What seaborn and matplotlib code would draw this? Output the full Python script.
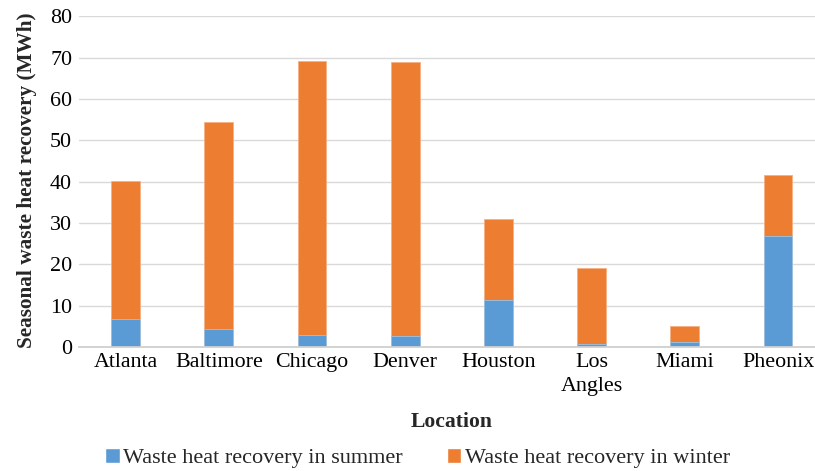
import matplotlib
matplotlib.use("Agg")
import matplotlib.pyplot as plt
from matplotlib.patches import Patch
import seaborn as sns
import pandas as pd

locations = ["Atlanta", "Baltimore", "Chicago", "Denver", "Houston",
             "Los\nAngles", "Miami", "Pheonix"]
summer = [6.7, 4.4, 3.0, 2.6, 11.3, 0.7, 1.3, 26.9]
winter = [33.5, 50.0, 66.1, 66.4, 19.6, 18.4, 3.7, 14.7]
y_ticks = [0, 10, 20, 30, 40, 50, 60, 70, 80]

summer_label = "Waste heat recovery in summer"
winter_label = "Waste heat recovery in winter"
x_title = "Location"
y_title = "Seasonal waste heat recovery (MWh)"

blue = "#5B9BD5"
orange = "#ED7D31"
grid_col = "#d9d9d9"

sns.set_theme(style="white")
plt.rcParams["font.family"] = ["Liberation Serif", "DejaVu Serif"]

df = pd.DataFrame({"Location": locations, "summer": summer, "winter": winter})
df["total"] = df["summer"] + df["winter"]

fig = plt.figure(figsize=(8.15, 4.71), dpi=100)
ax = fig.add_axes([79 / 815, 1 - 347 / 471, 736 / 815, (347 - 16.3) / 471])

# stacked bars: full height in winter colour, summer part drawn on top
sns.barplot(data=df, x="Location", y="total", color=orange, width=0.31,
            saturation=1, edgecolor="#f4b183", linewidth=0.6, ax=ax, zorder=3)
sns.barplot(data=df, x="Location", y="summer", color=blue, width=0.31,
            saturation=1, edgecolor="#9dc3e6", linewidth=0.6, ax=ax, zorder=4)

ax.set_xlim(-0.5, -0.5 + 736 / 93.2)
ax.set_ylim(0, 80)
ax.set_yticks(y_ticks)
ax.set_yticklabels([str(v) for v in y_ticks])
ax.grid(axis="y", color=grid_col, linewidth=1.0, zorder=0)
ax.grid(axis="x", visible=False)
for s in ["top", "right", "left"]:
    ax.spines[s].set_visible(False)
ax.spines["bottom"].set_color("#d0d0d0")
ax.spines["bottom"].set_linewidth(1.3)
ax.spines["bottom"].set_zorder(5)
ax.tick_params(axis="both", length=0, labelsize=15.8, colors="#000000")
ax.tick_params(axis="x", pad=4.5)
ax.tick_params(axis="y", pad=5)
for lbl in ax.get_xticklabels():
    lbl.set_linespacing(1.35)
ax.set_xlabel("")
ax.set_ylabel("")

fig.text(451.5 / 815, 1 - 422 / 471, x_title, ha="center", va="center",
         fontsize=15.6, fontweight="bold")
fig.text(27 / 815, 1 - 180 / 471, y_title, ha="center", va="center",
         rotation=90, fontsize=15.3, fontweight="bold")

handles = [Patch(facecolor=blue, label=summer_label),
           Patch(facecolor=orange, label=winter_label)]
fig.legend(handles=handles, loc="center", bbox_to_anchor=(417.5 / 815, 1 - 458 / 471),
           ncol=2, frameon=False, fontsize=16, handlelength=0.65, handleheight=0.65,
           handletextpad=0.15, columnspacing=2.0, borderaxespad=0)

fig.savefig("out.png", dpi=100)
